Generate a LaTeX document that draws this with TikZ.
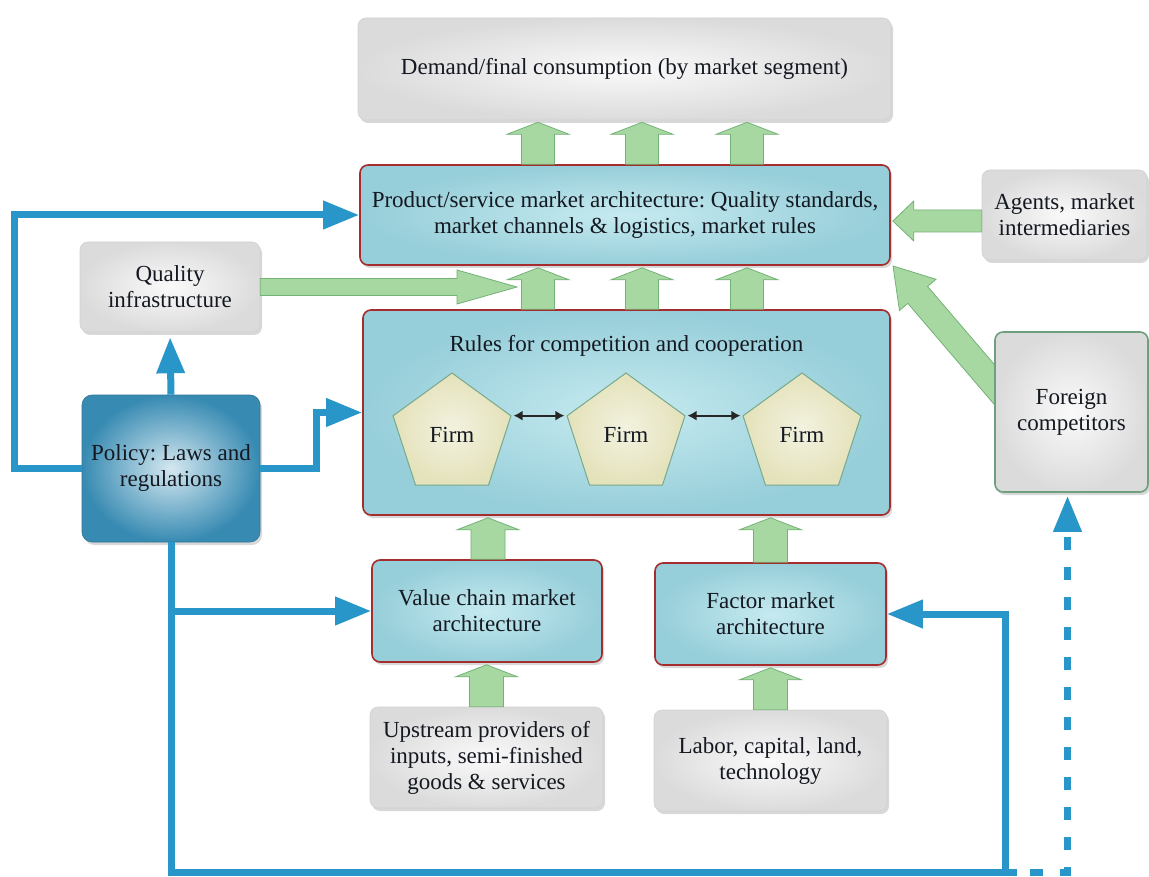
\documentclass[tikz,border=0pt]{standalone}
\usepackage{fontspec}
\setmainfont{Liberation Serif}
\frenchspacing
\usetikzlibrary{arrows.meta,positioning,calc,shapes.geometric,shadows}
\definecolor{LINE-BLUE}{RGB}{40,150,200}
\definecolor{BOX-RED}{RGB}{165,45,45}
\definecolor{ARR-GREEN}{RGB}{168,216,162}
\definecolor{ARR-EDGE}{RGB}{115,178,118}
\definecolor{CYAN-IN}{RGB}{198,234,240}
\definecolor{CYAN-OUT}{RGB}{150,206,217}
\definecolor{POL-IN}{RGB}{212,232,240}
\definecolor{POL-OUT}{RGB}{55,138,178}
\definecolor{FIRM-FILL}{RGB}{228,226,186}
\definecolor{FIRM-EDGE}{RGB}{120,168,140}
\definecolor{FOR-EDGE}{RGB}{110,160,128}
\definecolor{TXT}{RGB}{20,24,32}

\newcommand{\boxfont}{\fontsize{23}{26}\selectfont}

% block arrow: tail, tip, half shaft, half head, head length
\newcommand{\fatarrow}[5]{%
  \coordinate (fa-base) at ($(#2)!#5!(#1)$);
  \path[fatarr] ($(#1)!#3!90:(#2)$) -- ($(fa-base)!#3!90:(#2)$) -- ($(fa-base)!#4!90:(#2)$) -- (#2)
    -- ($(fa-base)!#4!-90:(#2)$) -- ($(fa-base)!#3!-90:(#2)$) -- ($(#1)!#3!-90:(#2)$) -- cycle;
}

\tikzset{
  basebox/.style={rounded corners=8pt, align=center, text=TXT, font=\boxfont,
    drop shadow={shadow xshift=2pt, shadow yshift=-3pt, opacity=0.3}},
  graybox/.style={basebox, inner color=gray!4, outer color=gray!28, draw=gray!35, line width=0.6pt},
  marketbox/.style={basebox, inner color=CYAN-IN, outer color=CYAN-OUT, draw=BOX-RED, line width=1.6pt},
  policybox/.style={basebox, rounded corners=10pt, inner color=POL-IN, outer color=POL-OUT, draw=POL-OUT!85!black, line width=0.6pt},
  firm/.style={regular polygon, regular polygon sides=5, minimum size=124pt, inner sep=0pt,
    inner color=white!55!FIRM-FILL, outer color=FIRM-FILL, draw=FIRM-EDGE, line width=1pt,
    text=TXT, font=\boxfont},
  fatarr/.style={fill=ARR-GREEN, draw=ARR-EDGE, line width=0.8pt, line join=miter},
  bline/.style={draw=LINE-BLUE, line width=7pt, -{Triangle[length=36pt,width=27pt]}},
  dblarr/.style={{Latex[length=9pt,width=10pt]}-{Latex[length=9pt,width=10pt]}, line width=1.8pt, black!85,
    shorten <=2pt, shorten >=2pt}
}

\begin{document}
\begin{tikzpicture}[x=1pt,y=-1pt]
  \useasboundingbox[fill=white] (0,0) rectangle (1149,877);

  % foreign competitors push into the product market (drawn under the boxes)
  \coordinate (fctail) at (1005,397);
  \coordinate (fctip) at (893,266);
  \fatarrow{fctail}{fctip}{13pt}{24pt}{38pt}

  % boxes
  \node[graybox, minimum width=533pt, minimum height=102pt] (demand) at (624.5,69)
    {Demand/final consumption (by market segment)};
  \node[marketbox, minimum width=530pt, minimum height=100pt] (prod) at (625,215)
    {Product/service market architecture: Quality standards,\\market channels \& logistics, market rules};
  \node[graybox, minimum width=165pt, minimum height=90pt] (agents) at (1064.5,215)
    {Agents, market\\intermediaries};
  \node[graybox, minimum width=180pt, minimum height=90pt] (qual) at (170,287)
    {Quality\\infrastructure};
  \node[marketbox, minimum width=527pt, minimum height=205pt] (rules) at (626.5,412.5) {};
  \node[policybox, minimum width=178pt, minimum height=147pt] (pol) at (171,468.5)
    {Policy: Laws and\\regulations};
  \node[graybox, draw=FOR-EDGE, line width=1.6pt, minimum width=153pt, minimum height=160pt] (forg) at (1071.5,412)
    {Foreign\\competitors};
  \node[marketbox, minimum width=230pt, minimum height=102pt] (value) at (487,611)
    {Value chain market\\architecture};
  \node[marketbox, minimum width=231pt, minimum height=102pt] (factor) at (770.5,614)
    {Factor market\\architecture};
  \node[graybox, minimum width=233pt, minimum height=101pt] (upstream) at (486.5,757.5)
    {Upstream providers of\\inputs, semi-finished\\goods \& services};
  \node[graybox, minimum width=233pt, minimum height=101pt] (labor) at (770.5,760.5)
    {Labor, capital, land,\\technology};

  % inside the rules box
  \node[text=TXT, font=\boxfont] (rtitle) at ($(rules.north)+(0,37)$) {Rules for competition and cooperation};
  \node[firm] (firm1) at (452,435) {Firm};
  \node[firm] (firm2) at (626,435) {Firm};
  \node[firm] (firm3) at (802,435) {Firm};
  \draw[dblarr] (firm1.corner 5) -- (firm2.corner 2);
  \draw[dblarr] (firm2.corner 5) -- (firm3.corner 2);

  % green block arrows
  \foreach \dx in {-87,17,122}{
    \coordinate (t) at ($(prod.north)+(\dx,0)$);
    \coordinate (h) at ($(demand.south -| t)+(0,2)$);
    \fatarrow{t}{h}{16.5pt}{31pt}{12pt}
    \coordinate (t) at (rules.north -| h);
    \coordinate (h) at ($(prod.south -| t)+(0,2)$);
    \fatarrow{t}{h}{16.5pt}{31pt}{12pt}
  }
  \coordinate (t) at ($(value.north)+(1,0)$);
  \coordinate (h) at ($(rules.south -| t)+(0,2)$);
  \fatarrow{t}{h}{17pt}{31pt}{12pt}
  \coordinate (t) at (upstream.north);
  \coordinate (h) at ($(value.south -| t)+(0,2)$);
  \fatarrow{t}{h}{17pt}{31pt}{12pt}
  \coordinate (t) at (factor.north);
  \coordinate (h) at ($(rules.south -| t)+(0,2)$);
  \fatarrow{t}{h}{17pt}{31pt}{12pt}
  \coordinate (t) at (labor.north);
  \coordinate (h) at ($(factor.south -| t)+(0,2)$);
  \fatarrow{t}{h}{17pt}{31pt}{12pt}
  \coordinate (h) at ($(qual.east -| prod.north)+(-108,0)$);
  \fatarrow{qual.east}{h}{8.5pt}{17pt}{60pt}
  \coordinate (t) at ($(agents.west)+(0,6)$);
  \coordinate (h) at ($(prod.east |- t)+(2,0)$);
  \fatarrow{t}{h}{11pt}{20pt}{21pt}

  % policy lines
  \draw[bline] (pol.west) -- ++(-67,0) |- (prod.west);
  \draw[bline, shorten >=5pt] (pol.north) -- (qual.south);
  \draw[bline] (pol.east) -- ++(56,0) |- (rules.west);
  \coordinate (turn) at ($(pol.south)+(834,330)$);
  \draw[bline, -] (pol.south) |- (turn) -- ++(12,0) coordinate (dstart);
  \draw[bline] (pol.south |- value.west) -- (value.west);
  \draw[bline] (turn) |- (factor.east);
  \draw[bline, dash pattern=on 13pt off 17pt, dash phase=17pt, shorten >=3pt] (dstart) -| ($(forg.south)+(-4,0)$);
\end{tikzpicture}
\end{document}
